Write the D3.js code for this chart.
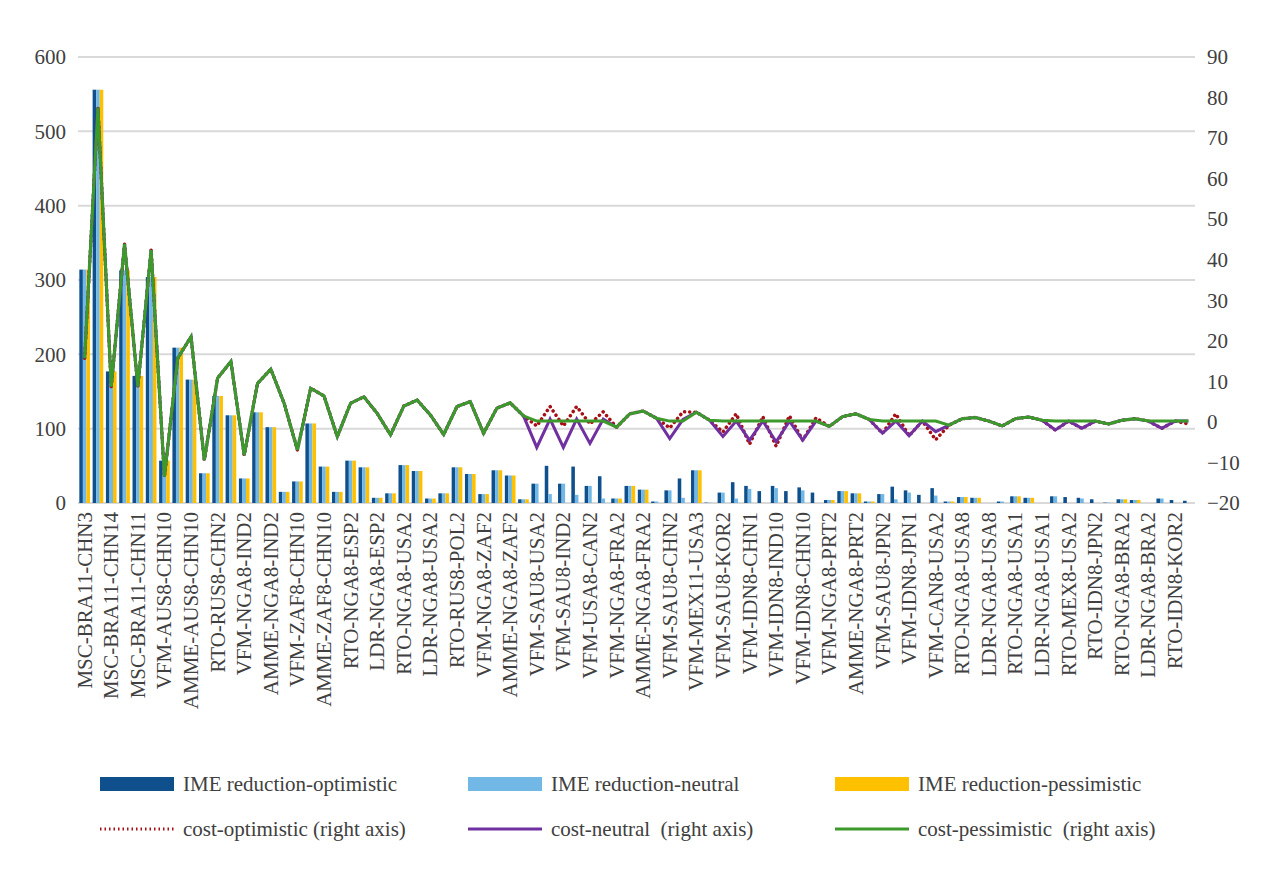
<!DOCTYPE html>
<meta charset="utf-8">
<title>IME reduction and cost</title>
<style>
body { margin: 0; background: #fff; }
svg text { font-family: "Liberation Serif", "Times New Roman", serif !important; fill: #404040; white-space: pre; }
.grid line { stroke: #d9d9d9; stroke-width: 2px; }
</style>
<body>
<div id="chart"></div>
<script src="https://cdn.jsdelivr.net/npm/d3@7"></script>
<script>

// labelled categories (every other category carries a label)
const shownLabels = ["MSC-BRA11-CHN3","MSC-BRA11-CHN14","MSC-BRA11-CHN11","VFM-AUS8-CHN10","AMME-AUS8-CHN10","RTO-RUS8-CHN2","VFM-NGA8-IND2","AMME-NGA8-IND2","VFM-ZAF8-CHN10","AMME-ZAF8-CHN10","RTO-NGA8-ESP2","LDR-NGA8-ESP2","RTO-NGA8-USA2","LDR-NGA8-USA2","RTO-RUS8-POL2","VFM-NGA8-ZAF2","AMME-NGA8-ZAF2","VFM-SAU8-USA2","VFM-SAU8-IND2","VFM-USA8-CAN2","VFM-NGA8-FRA2","AMME-NGA8-FRA2","VFM-SAU8-CHN2","VFM-MEX11-USA3","VFM-SAU8-KOR2","VFM-IDN8-CHN1","VFM-IDN8-IND10","VFM-IDN8-CHN10","VFM-NGA8-PRT2","AMME-NGA8-PRT2","VFM-SAU8-JPN2","VFM-IDN8-JPN1","VFM-CAN8-USA2","RTO-NGA8-USA8","LDR-NGA8-USA8","RTO-NGA8-USA1","LDR-NGA8-USA1","RTO-MEX8-USA2","RTO-IDN8-JPN2","RTO-NGA8-BRA2","LDR-NGA8-BRA2","RTO-IDN8-KOR2"];

const imeOptimistic = [314,556,177,313,171,304,57,209,166,40,144,118,33,122,102,15,29,107,49,15,57,48,7,13,51,43,6,13,48,39,12,44,37,5,26,50,26,49,23,36,6,23,18,2,17,33,44,0.5,14,28,23,16,23,16,21,14,4,16,13,2,12,22,17,11,20,2,8,7,0,2,9,7,0,9,8,7,5,0.5,5,4,0,6,4,3];
const imeNeutral = [314,556,177,313,171,304,57,209,166,40,144,118,33,122,102,15,29,107,49,15,57,48,7,13,51,43,6,13,48,39,12,44,37,5,26,12,26,11,23,6,6,23,18,2,17,7,44,0.5,14,6,19,0,20,0,17,0,4,16,13,2,12,5,14,0,10,2,8,7,0,2,9,7,0,9,0,6,0,0.5,5,4,0,6,0,0];
const imePessimistic = [314,556,177,313,171,304,57,209,166,40,144,118,33,122,102,15,29,107,49,15,57,48,7,13,51,43,6,13,48,39,12,44,37,5,0,0,0,0,0,0,6,23,18,0,0,0,44,0,0,0,0,0,0,0,0,0,4,16,13,2,0,0,0,0,0,2,8,7,0,0,9,7,0,0,0,0,0,0,5,4,0,0,0,0];

const costPessimistic = [15.7,77.5,8.7,43.9,8.7,42.4,-13.5,15.7,21,-9.4,10.8,14.9,-8.2,9.5,13,4.6,-6.9,8.3,6.4,-3.6,4.6,6.2,2.1,-3.2,3.9,5.4,1.7,-3.1,3.8,5.0,-2.8,3.4,4.7,1.5,0.2,0.2,0.2,0.2,0.2,0.2,-1.3,2.0,2.7,0.9,0.2,0.2,2.4,0.4,0.2,0.2,0.2,0.2,0.2,0.2,0.2,0.2,-1.1,1.3,2.0,0.6,0.2,0.2,0.2,0.2,0.2,-0.8,0.8,1.1,0.2,-1.0,0.8,1.2,0.4,0.2,0.2,0.2,0.2,-0.5,0.4,0.8,0.2,0.2,0.2,0.2];
const costNeutral = [15.7,77.5,8.7,43.9,8.7,42.4,-13.5,15.7,21,-9.4,10.8,14.9,-8.2,9.5,13,4.6,-6.9,8.3,6.4,-3.6,4.6,6.2,2.1,-3.2,3.9,5.4,1.7,-3.1,3.8,5.0,-2.8,3.4,4.7,1.5,-6.3,0.7,-6.3,0.7,-5.3,0.7,-1.3,2.0,2.7,0.9,-4.1,0.6,2.4,0.4,-3.6,0.2,-4.5,0.2,-4.9,0.2,-4.5,0.2,-1.1,1.3,2.0,0.6,-2.8,0.2,-3.4,0.2,-2.4,-0.8,0.8,1.1,0.2,-1.0,0.8,1.2,0.4,-2.0,0.2,-1.6,0.2,-0.5,0.4,0.8,0.2,-1.6,0.2,0.2];
const costOptimistic = [15.7,77.5,8.7,43.9,8.7,42.4,-13.5,15.7,21,-9.4,10.8,14.9,-8.2,9.5,13,4.6,-6.9,8.3,6.4,-3.6,4.6,6.2,2.1,-3.2,3.9,5.4,1.7,-3.1,3.8,5.0,-2.8,3.4,4.7,1.5,-1.0,3.8,-1.0,3.8,-0.5,2.5,-1.3,2.0,2.7,0.9,-1.5,2.5,2.4,0.4,-2.5,2.0,-5.5,1.3,-6.0,1.5,-4.5,1.0,-1.1,1.3,2.0,0.6,-2.8,2.0,-3.4,0.2,-4.4,-0.8,0.8,1.1,0.2,-1.0,0.8,1.2,0.4,-2.0,0.2,-1.6,0.2,-0.5,0.4,0.8,0.2,-1.6,0.2,-0.5];

const leftTicks = [0,100,200,300,400,500,600];
const rightTicks = [-20,-10,0,10,20,30,40,50,60,70,80,90];

const width = 1271, height = 887;
const margin = {top: 57, right: 76, bottom: 384, left: 78};
const innerW = width - margin.left - margin.right;
const innerH = height - margin.top - margin.bottom;
const font = '"Liberation Serif", "Times New Roman", serif';

const n = imeOptimistic.length;
const idx = d3.range(n);

const x = d3.scaleBand().domain(idx).range([0, innerW]).paddingInner(0.2).paddingOuter(0.1);
const xs = d3.scaleBand().domain([0,1,2]).range([0, x.bandwidth()]);
const yL = d3.scaleLinear().domain([0, 600]).range([innerH, 0]);
const yR = d3.scaleLinear().domain([-20, 90]).range([innerH, 0]);

const svg = d3.select("#chart").append("svg").attr("width", width).attr("height", height)
  .attr("font-family", font);
const g = svg.append("g").attr("transform", `translate(${margin.left},${margin.top})`);

// gridlines
g.append("g").attr("class", "grid")
  .selectAll("line").data(leftTicks).enter().append("line")
  .attr("x1", 0).attr("x2", innerW)
  .attr("y1", d => yL(d)).attr("y2", d => yL(d));

// axes
const axL = g.append("g").call(d3.axisLeft(yL).tickValues(leftTicks).tickSize(0).tickPadding(12));
const axR = g.append("g").attr("transform", `translate(${innerW},0)`)
  .call(d3.axisRight(yR).tickValues(rightTicks).tickSize(0).tickPadding(12));
[axL, axR].forEach(a => {
  a.attr("font-family", font).attr("font-size", 21);
  a.select(".domain").remove();
  a.selectAll("text").attr("fill", "#404040");
});

// bars
const barSeries = [
  {vals: imeOptimistic, color: "#0e4f8c"},
  {vals: imeNeutral, color: "#71b8e6"},
  {vals: imePessimistic, color: "#ffc000"}
];
barSeries.forEach((s, k) => {
  g.append("g").selectAll("rect").data(idx).enter().append("rect")
    .attr("x", i => x(i) + xs(k))
    .attr("width", xs.bandwidth())
    .attr("y", i => yL(s.vals[i]))
    .attr("height", i => innerH - yL(s.vals[i]))
    .attr("fill", s.color);
});

// lines
const line = vals => d3.line().x(i => x(i) + x.bandwidth() / 2).y(i => yR(vals[i]))(idx);
g.append("path").attr("d", line(costOptimistic)).attr("fill", "none")
  .attr("stroke", "#a50f15").attr("stroke-width", 3.5).attr("stroke-dasharray", "0.1,5").attr("stroke-linecap", "round");
g.append("path").attr("d", line(costNeutral)).attr("fill", "none")
  .attr("stroke", "#7030a0").attr("stroke-width", 3);
g.append("path").attr("d", line(costPessimistic)).attr("fill", "none")
  .attr("stroke", "#3b9a2a").attr("stroke-width", 3);

// x labels, every other category
g.append("g").selectAll("text").data(shownLabels).enter().append("text")
  .attr("transform", (d, j) => `translate(${x(j * 2) + x.bandwidth() / 2 + 7},${innerH + 9}) rotate(-90)`)
  .attr("text-anchor", "end")
  .attr("font-size", 21)
  .text(d => d);

// legend
const legend = [
  {label: "IME reduction-optimistic", color: "#0e4f8c", type: "bar", x: 100, y: 784},
  {label: "IME reduction-neutral", color: "#71b8e6", type: "bar", x: 468, y: 784},
  {label: "IME reduction-pessimistic", color: "#ffc000", type: "bar", x: 835, y: 784},
  {label: "cost-optimistic (right axis)", color: "#a50f15", type: "dot", x: 100, y: 829},
  {label: "cost-neutral  (right axis)", color: "#7030a0", type: "line", x: 468, y: 829},
  {label: "cost-pessimistic  (right axis)", color: "#3b9a2a", type: "line", x: 835, y: 829}
];
const lg = svg.append("g").selectAll("g").data(legend).enter().append("g")
  .attr("transform", d => `translate(${d.x},${d.y})`);
lg.filter(d => d.type === "bar").append("rect")
  .attr("x", 0).attr("y", -7).attr("width", 74).attr("height", 14).attr("fill", d => d.color);
lg.filter(d => d.type !== "bar").append("line")
  .attr("x1", 0).attr("x2", 74).attr("y1", 0).attr("y2", 0)
  .attr("stroke", d => d.color).attr("stroke-width", 3)
  .attr("stroke-dasharray", d => d.type === "dot" ? "1.5,3" : null);
lg.append("text").attr("x", 83).attr("y", 7).attr("font-size", 21).text(d => d.label);

</script>
</body>
